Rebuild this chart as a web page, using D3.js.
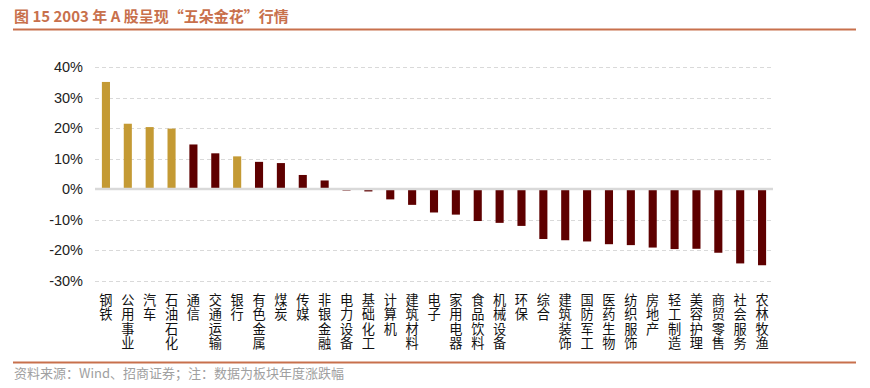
<!DOCTYPE html>
<html>
<head>
<meta charset="utf-8">
<script src="https://cdn.jsdelivr.net/npm/d3@7"></script>
<style>
  html, body { margin: 0; padding: 0; background: #fff; }
  svg { display: block; }
</style>
</head>
<body>
<svg id="chart" width="870" height="388"></svg>
<script>
// sectors, 2003 yearly change (%)
const categories = ["钢铁", "公用事业", "汽车", "石油石化", "通信", "交通运输", "银行", "有色金属", "煤炭", "传媒",
  "非银金融", "电力设备", "基础化工", "计算机", "建筑材料", "电子", "家用电器", "食品饮料", "机械设备", "环保",
  "综合", "建筑装饰", "国防军工", "医药生物", "纺织服饰", "房地产", "轻工制造", "美容护理", "商贸零售", "社会服务", "农林牧渔"];
const values = [35.1, 21.4, 20.3, 19.8, 14.6, 11.7, 10.7, 8.9, 8.5, 4.6,
  2.8, -0.5, -0.8, -3.4, -5.2, -7.7, -8.4, -10.5, -11.1, -12.1,
  -16.4, -16.8, -17.2, -18.1, -18.4, -19.2, -19.7, -19.6, -20.9, -24.4, -25.0];
// the "five golden flowers"
const highlighted = ["钢铁", "公用事业", "汽车", "石油石化", "银行"];
const yTicks = [40, 30, 20, 10, 0, -10, -20, -30];

const title = "图 15 2003 年 A 股呈现“五朵金花”行情";
const source = "资料来源：Wind、招商证券；注：数据为板块年度涨跌幅";

const gold = "#C49A34";
const darkRed = "#5E0000";
const accent = "#C8704C";

const svg = d3.select("#chart");
const cjk = "'Noto Sans CJK SC', 'Liberation Sans', sans-serif";

// header
svg.append("text")
  .attr("x", 14).attr("y", 22)
  .attr("font-family", cjk)
  .attr("font-size", 15).attr("font-weight", "bold")
  .attr("fill", accent)
  .text(title);
svg.append("line")
  .attr("x1", 13).attr("x2", 856).attr("y1", 29.5).attr("y2", 29.5)
  .attr("stroke", accent).attr("stroke-width", 2);

// plot
const x = d3.scaleBand().domain(categories).range([95, 773]).paddingInner(0.63).paddingOuter(0.315);
const y = d3.scaleLinear().domain([-30, 40]).range([280.5, 67]);

const grid = svg.append("g");
grid.selectAll("line")
  .data(yTicks.filter(d => d !== 0))
  .join("line")
  .attr("x1", 95).attr("x2", 773)
  .attr("y1", d => Math.round(y(d)) + 0.5).attr("y2", d => Math.round(y(d)) + 0.5)
  .attr("stroke", "#d9d9d9").attr("stroke-dasharray", "4,3");

const yAxis = svg.append("g")
  .attr("transform", "translate(95,0)")
  .call(d3.axisLeft(y).tickValues(yTicks).tickSize(0).tickPadding(12).tickFormat(d => d + "%"));
yAxis.select(".domain").remove();
yAxis.selectAll("text")
  .attr("font-family", "'Liberation Sans', Arial, sans-serif")
  .attr("font-size", 14.5)
  .attr("fill", "#222");

svg.append("g").selectAll("rect")
  .data(values)
  .join("rect")
  .attr("x", (d, i) => x(categories[i]))
  .attr("width", x.bandwidth())
  .attr("y", d => y(Math.max(0, d)))
  .attr("height", d => Math.abs(y(d) - y(0)))
  .attr("fill", (d, i) => highlighted.includes(categories[i]) ? gold : darkRed);

// zero line
svg.append("line")
  .attr("x1", 95).attr("x2", 773).attr("y1", y(0)).attr("y2", y(0))
  .attr("stroke", "#d9d9d9").attr("stroke-width", 2.5);

// vertical category labels (one text each, set top to bottom)
svg.append("g").selectAll("text")
  .data(categories)
  .join("text")
  .attr("x", c => x(c) + x.bandwidth() / 2)
  .attr("y", 293)
  .attr("writing-mode", "vertical-rl")
  .style("text-orientation", "upright")
  .attr("letter-spacing", 1.4)
  .attr("font-family", cjk)
  .attr("font-size", 13.2)
  .attr("fill", "#111")
  .text(c => c);

// footer
svg.append("line")
  .attr("x1", 13).attr("x2", 856).attr("y1", 362.5).attr("y2", 362.5)
  .attr("stroke", accent).attr("stroke-width", 2);
svg.append("text")
  .attr("x", 14).attr("y", 378)
  .attr("font-family", cjk)
  .attr("font-size", 13)
  .attr("fill", "#a0a0a0")
  .text(source);
</script>
</body>
</html>
